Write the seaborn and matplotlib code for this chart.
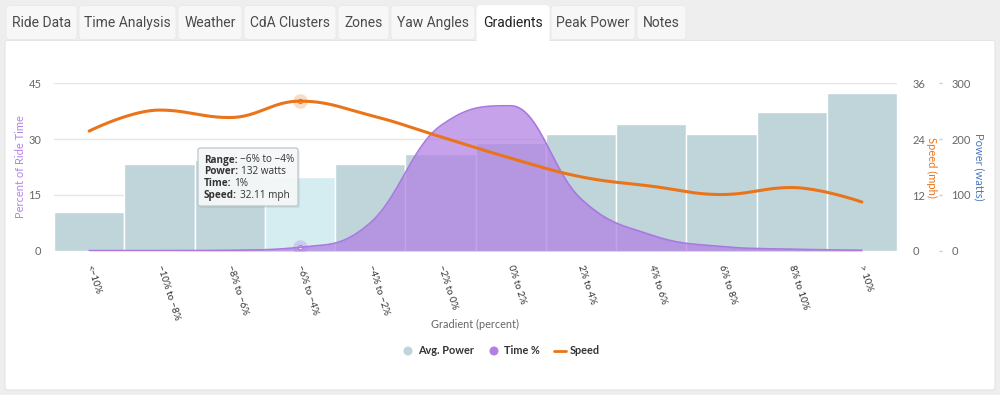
import numpy as np
import matplotlib
matplotlib.use("Agg")
import matplotlib.pyplot as plt
from matplotlib.patches import FancyBboxPatch, Rectangle, Circle
import seaborn as sns

### DATA
gradients = ["<−10%", "−10% to −8%", "−8% to −6%", "−6% to −4%", "−4% to −2%", "−2% to 0%",
             "0% to 2%", "2% to 4%", "4% to 6%", "6% to 8%", "8% to 10%", "> 10%"]
avg_power = [70, 155, 162, 132, 155, 174, 193, 209, 226, 209, 249, 282]
time_pct = [0.1, 0.1, 0.2, 1, 7.5, 33.5, 38.9, 14, 4.3, 1.2, 0.5, 0.2]
speed = [25.7, 30.2, 28.6, 32.11, 29.1, 24.5, 19.9, 15.9, 13.9, 12.1, 13.6, 10.5]

time_ticks = [0, 15, 30, 45]
speed_ticks = [0, 12, 24, 36]
power_ticks = [0, 100, 200, 300]

tabs = ["Ride Data", "Time Analysis", "Weather", "CdA Clusters", "Zones", "Yaw Angles",
        "Gradients", "Peak Power", "Notes"]
tab_edges = [5, 78, 177, 243, 337, 390, 476, 550, 636, 687]
active_tab = "Gradients"
hover_idx = 3

BAR_COL = "#bfd5da"
HOVER_COL = "#d5ecf1"
TIME_COL = "#b07fe3"
SPEED_COL = "#ea7419"
POWER_COL = "#4a78c0"

sns.set_style("white")
plt.rcParams['font.family'] = ['Lato', 'DejaVu Sans']
W, H = 1000, 395


# Highcharts-like spline: returns dense x/y through the points
def spline(xs, ys, smoothing=1.5, steps=40):
    n = len(xs)
    left = [None] * n
    right = [None] * n
    denom = smoothing + 1
    for i in range(1, n - 1):
        x, y = xs[i], ys[i]
        lx, ly = xs[i - 1], ys[i - 1]
        nx, ny = xs[i + 1], ys[i + 1]
        lcx = (smoothing * x + lx) / denom
        lcy = (smoothing * y + ly) / denom
        rcx = (smoothing * x + nx) / denom
        rcy = (smoothing * y + ny) / denom
        corr = (rcy - lcy) * (rcx - x) / (rcx - lcx) + y - rcy
        lcy += corr
        rcy += corr
        if lcy > ly and lcy > y:
            lcy = max(ly, y); rcy = 2 * y - lcy
        elif lcy < ly and lcy < y:
            lcy = min(ly, y); rcy = 2 * y - lcy
        if rcy > ny and rcy > y:
            rcy = max(ny, y); lcy = 2 * y - rcy
        elif rcy < ny and rcy < y:
            rcy = min(ny, y); lcy = 2 * y - rcy
        left[i] = (lcx, lcy)
        right[i] = (rcx, rcy)
    t = np.linspace(0, 1, steps)
    outx, outy = [], []
    for i in range(1, n):
        p0 = (xs[i - 1], ys[i - 1])
        p3 = (xs[i], ys[i])
        p1 = right[i - 1] or p0
        p2 = left[i] or p3
        for k in range(2):
            c = ((1 - t) ** 3 * p0[k] + 3 * (1 - t) ** 2 * t * p1[k]
                 + 3 * (1 - t) * t ** 2 * p2[k] + t ** 3 * p3[k])
            (outx if k == 0 else outy).extend(c if i == 1 else c[1:])
    return np.array(outx), np.array(outy)


fig = plt.figure(figsize=(W / 100, H / 100), dpi=100)
fig.patch.set_facecolor("#eeeeee")

# background: tabs and white panel
bg = fig.add_axes([0, 0, 1, 1], zorder=0)
bg.set_xlim(0, W)
bg.set_ylim(H, 0)
bg.axis("off")
bg.add_patch(FancyBboxPatch((5, 40.5), 990, 349.5, boxstyle="round,pad=0,rounding_size=3",
                            facecolor="white", edgecolor="#e4e4e4", lw=0.8))
for i, name in enumerate(tabs):
    x0, x1 = tab_edges[i] + 1, tab_edges[i + 1] - 1
    active = name == active_tab
    bg.add_patch(FancyBboxPatch((x0, 5.5), x1 - x0, 40 if active else 34,
                                boxstyle="round,pad=0,rounding_size=4",
                                facecolor="white" if active else "#f7f7f7",
                                edgecolor="white" if active else "#e9e9e9", lw=0.6))
    bg.text((x0 + x1) / 2, 23, name, ha="center", va="center", fontsize=10,
            family=["Roboto", "DejaVu Sans"], color="#222222" if active else "#4a4a4a")
bg.add_patch(Rectangle((6, 41), 988, 20, facecolor="white", edgecolor="none"))
bg.add_patch(Rectangle((tab_edges[6] + 1.4, 30), tab_edges[7] - tab_edges[6] - 2.8, 14,
                       facecolor="white", edgecolor="none"))

# chart axes
rect = [54 / W, 1 - 251 / H, 843 / W, 168 / H]
ax_p = fig.add_axes(rect, zorder=1)
ax_p.patch.set_alpha(0)
ax_t = ax_p.twinx()
ax_t.set_zorder(2)
ax_s = ax_p.twinx()
ax_s.set_zorder(3)

df_x = np.arange(len(gradients))

# power bars
sns.barplot(x=gradients, y=avg_power, ax=ax_p, width=1.0, color=BAR_COL,
            edgecolor="white", linewidth=1, saturation=1, zorder=2)
ax_p.patches[hover_idx].set_facecolor(HOVER_COL)
ax_p.set_ylim(0, 300)
ax_p.set_yticks(power_ticks)
ax_p.grid(axis="y", color="#e6e6e6", lw=1)
ax_p.grid(axis="x", visible=False)
ax_p.set_axisbelow(True)
ax_p.yaxis.tick_right()
ax_p.tick_params(axis="y", length=2, width=1, color="#cccccc", pad=7, labelsize=8,
                 labelcolor="#666666")
ax_p.spines["right"].set_position(("outward", 30))
for sp in ax_p.spines.values():
    sp.set_visible(False)

# time % area
tx, ty = spline(df_x, time_pct)
ax_t.fill_between(tx, 0, ty, color=TIME_COL, alpha=0.72, lw=0)
sns.lineplot(x=tx, y=ty, ax=ax_t, color="#a978e0", lw=1.2, sort=False)
ax_t.set_ylim(0, 45)
ax_t.set_yticks(time_ticks)
ax_t.yaxis.tick_left()
ax_t.tick_params(axis="y", length=0, pad=9, labelsize=8, labelcolor="#666666")
for sp in ax_t.spines.values():
    sp.set_visible(False)

# speed line
sx, sy = spline(df_x, speed)
sns.lineplot(x=sx, y=sy, ax=ax_s, color=SPEED_COL, lw=2.2, sort=False)
ax_s.set_ylim(0, 36)
ax_s.set_yticks(speed_ticks)
ax_s.tick_params(axis="y", length=0, pad=11, labelsize=8, labelcolor="#666666")
for sp in ax_s.spines.values():
    sp.set_visible(False)

# hover markers
ax_s.scatter([hover_idx], [speed[hover_idx]], s=110, color=SPEED_COL, alpha=0.25, lw=0)
ax_s.scatter([hover_idx], [speed[hover_idx]], s=9, facecolor="white", edgecolor=SPEED_COL, lw=0.8)
ax_t.scatter([hover_idx], [time_pct[hover_idx]], s=110, color=TIME_COL, alpha=0.3, lw=0)
ax_t.scatter([hover_idx], [time_pct[hover_idx]], s=9, facecolor="white", edgecolor=TIME_COL, lw=0.8)

for a in (ax_p, ax_t, ax_s):
    a.set_xlim(-0.5, len(gradients) - 0.5)
    a.set_xlabel("")
    a.set_ylabel("")

ax_p.set_xticks(df_x)
ax_p.set_xticklabels(gradients, rotation=-72, rotation_mode="anchor", ha="left", va="center",
                     fontsize=7, color="#333333")
ax_p.tick_params(axis="x", length=0, pad=10)
ax_t.tick_params(axis="x", labelbottom=False, length=0)
ax_s.tick_params(axis="x", labelbottom=False, length=0)

# foreground: axis titles, legend, tooltip
fg = fig.add_axes([0, 0, 1, 1], zorder=10)
fg.set_xlim(0, W)
fg.set_ylim(H, 0)
fg.axis("off")
fg.text(21, 167, "Percent of Ride Time", rotation=90, ha="center", va="center",
        fontsize=8, color="#b583e8")
fg.text(932, 167, "Speed (mph)", rotation=270, ha="center", va="center",
        fontsize=8, color=SPEED_COL)
fg.text(979, 167, "Power (watts)", rotation=270, ha="center", va="center",
        fontsize=8, color=POWER_COL)
fg.text(475, 324, "Gradient (percent)", ha="center", va="center", fontsize=7.8, color="#666666")

fg.add_patch(Circle((408, 351), 4.5, facecolor=BAR_COL, edgecolor="none"))
fg.text(418, 351, "Avg. Power", ha="left", va="center", fontsize=7.8, weight="bold", color="#333333")
fg.add_patch(Circle((494, 351), 4.5, facecolor=TIME_COL, edgecolor="none"))
fg.text(504, 351, "Time %", ha="left", va="center", fontsize=7.8, weight="bold", color="#333333")
fg.plot([554, 566], [351, 351], color=SPEED_COL, lw=2)
fg.text(570, 351, "Speed", ha="left", va="center", fontsize=7.8, weight="bold", color="#333333")

# tooltip
fg.add_patch(FancyBboxPatch((200, 150), 100, 58, boxstyle="round,pad=0,rounding_size=2",
                            facecolor="#000000", alpha=0.06, edgecolor="none"))
fg.add_patch(FancyBboxPatch((198, 148), 100, 58, boxstyle="round,pad=0,rounding_size=2",
                            facecolor="#f6f8f9", alpha=0.95, edgecolor="#b8c4c8", lw=0.9))
tip = [("Range:", "−6% to −4%"),
       ("Power:", f"{avg_power[hover_idx]} watts"),
       ("Time:", f"{time_pct[hover_idx]:g}%"),
       ("Speed:", f"{speed[hover_idx]:.2f} mph")]
fig.canvas.draw()
renderer = fig.canvas.get_renderer()
for j, (lab, val) in enumerate(tip):
    y = 160 + j * 11.7
    t = fg.text(204, y, lab, ha="left", va="center", fontsize=7.2, weight="bold",
                family=["Open Sans", "DejaVu Sans"], color="#333333")
    bb = t.get_window_extent(renderer)
    fg.text(204 + bb.width + 2.5, y, val, ha="left", va="center", fontsize=7.2,
            family=["Open Sans", "DejaVu Sans"], color="#333333")

fig.savefig("out.png", dpi=100, facecolor=fig.get_facecolor())
